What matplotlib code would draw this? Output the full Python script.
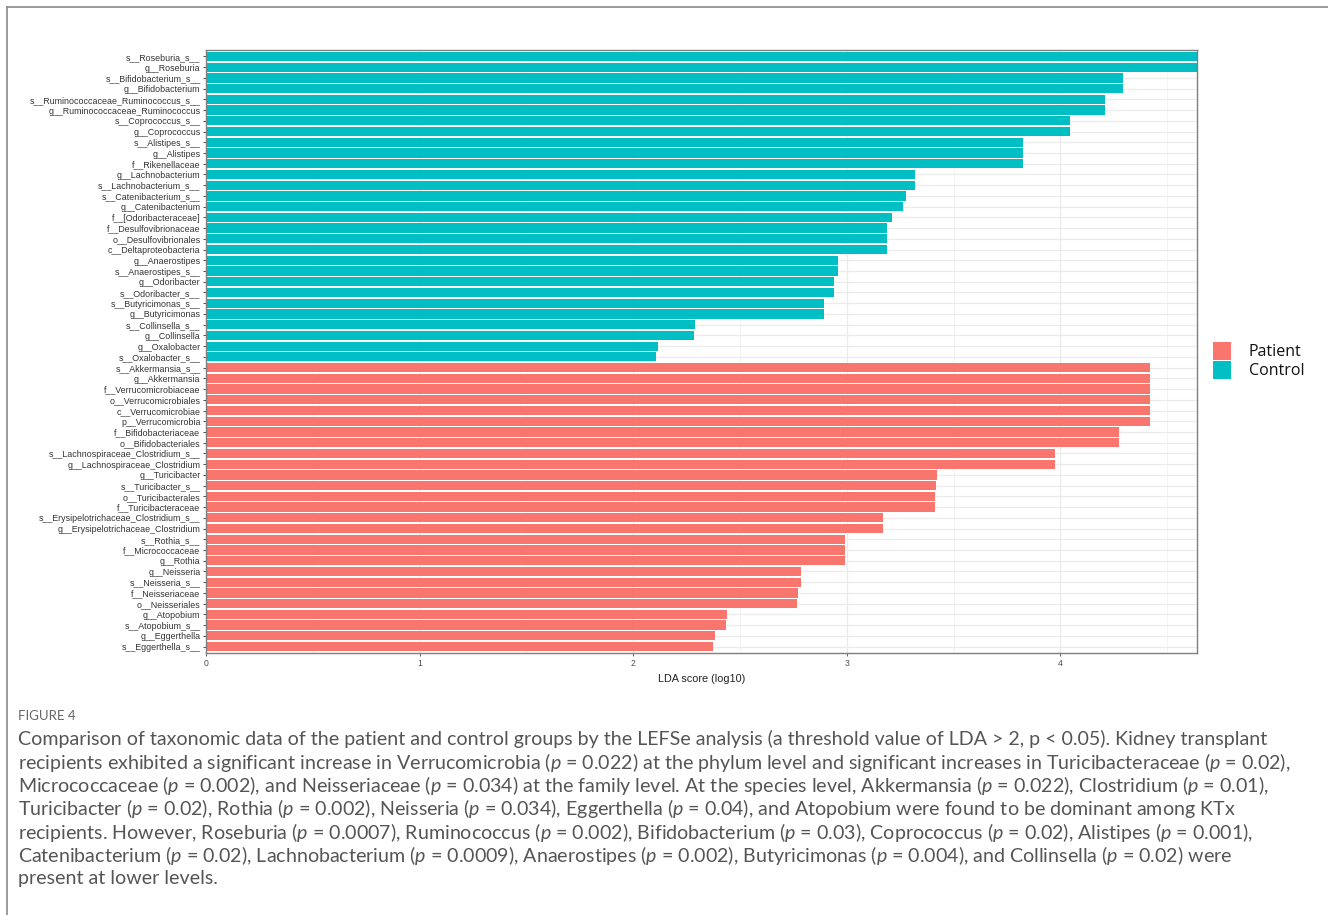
import matplotlib
matplotlib.use("Agg")
import matplotlib.pyplot as plt
from matplotlib.patches import Patch
from matplotlib.lines import Line2D
from matplotlib.ticker import MultipleLocator
import numpy as np

# LEfSe features, listed top to bottom as they appear on the chart
control_taxa = [
    "s__Roseburia_s__", "g__Roseburia", "s__Bifidobacterium_s__", "g__Bifidobacterium",
    "s__Ruminococcaceae_Ruminococcus_s__", "g__Ruminococcaceae_Ruminococcus",
    "s__Coprococcus_s__", "g__Coprococcus", "s__Alistipes_s__", "g__Alistipes",
    "f__Rikenellaceae", "g__Lachnobacterium", "s__Lachnobacterium_s__",
    "s__Catenibacterium_s__", "g__Catenibacterium", "f__[Odoribacteraceae]",
    "f__Desulfovibrionaceae", "o__Desulfovibrionales", "c__Deltaproteobacteria",
    "g__Anaerostipes", "s__Anaerostipes_s__", "g__Odoribacter", "s__Odoribacter_s__",
    "s__Butyricimonas_s__", "g__Butyricimonas", "s__Collinsella_s__", "g__Collinsella",
    "g__Oxalobacter", "s__Oxalobacter_s__",
]
control_lda = [
    4.64, 4.64, 4.294, 4.294,
    4.207, 4.207,
    4.046, 4.046, 3.825, 3.825,
    3.825, 3.318, 3.318,
    3.276, 3.265, 3.214,
    3.189, 3.189, 3.189,
    2.961, 2.961, 2.939, 2.939,
    2.895, 2.895, 2.291, 2.287,
    2.114, 2.107,
]

patient_taxa = [
    "s__Akkermansia_s__", "g__Akkermansia", "f__Verrucomicrobiaceae",
    "o__Verrucomicrobiales", "c__Verrucomicrobiae", "p__Verrucomicrobia",
    "f__Bifidobacteriaceae", "o__Bifidobacteriales",
    "s__Lachnospiraceae_Clostridium_s__", "g__Lachnospiraceae_Clostridium",
    "g__Turicibacter", "s__Turicibacter_s__", "o__Turicibacterales", "f__Turicibacteraceae",
    "s__Erysipelotrichaceae_Clostridium_s__", "g__Erysipelotrichaceae_Clostridium",
    "s__Rothia_s__", "f__Micrococcaceae", "g__Rothia",
    "g__Neisseria", "s__Neisseria_s__", "f__Neisseriaceae", "o__Neisseriales",
    "g__Atopobium", "s__Atopobium_s__", "g__Eggerthella", "s__Eggerthella_s__",
]
patient_lda = [
    4.418, 4.418, 4.418,
    4.418, 4.418, 4.418,
    4.276, 4.276,
    3.974, 3.974,
    3.422, 3.417, 3.413, 3.413,
    3.168, 3.168,
    2.993, 2.993, 2.993,
    2.787, 2.784, 2.774, 2.765,
    2.439, 2.435, 2.384, 2.374,
]

colors = {"Patient": "#F8766D", "Control": "#00BFC4"}

caption_lines = [
    "Comparison of taxonomic data of the patient and control groups by the LEFSe analysis (a threshold value of LDA > 2, p < 0.05). Kidney transplant",
    "recipients exhibited a significant increase in Verrucomicrobia ($p$ = 0.022) at the phylum level and significant increases in Turicibacteraceae ($p$ = 0.02),",
    "Micrococcaceae ($p$ = 0.002), and Neisseriaceae ($p$ = 0.034) at the family level. At the species level, Akkermansia ($p$ = 0.022), Clostridium ($p$ = 0.01),",
    "Turicibacter ($p$ = 0.02), Rothia ($p$ = 0.002), Neisseria ($p$ = 0.034), Eggerthella ($p$ = 0.04), and Atopobium were found to be dominant among KTx",
    "recipients. However, Roseburia ($p$ = 0.0007), Ruminococcus ($p$ = 0.002), Bifidobacterium ($p$ = 0.03), Coprococcus ($p$ = 0.02), Alistipes ($p$ = 0.001),",
    "Catenibacterium ($p$ = 0.02), Lachnobacterium ($p$ = 0.0009), Anaerostipes ($p$ = 0.002), Butyricimonas ($p$ = 0.004), and Collinsella ($p$ = 0.02) were",
    "present at lower levels.",
]

plt.rcParams["mathtext.fontset"] = "custom"
plt.rcParams["mathtext.rm"] = "Lato"
plt.rcParams["mathtext.it"] = "Lato:italic"

W, H = 1328, 915
fig = plt.figure(figsize=(W / 100, H / 100), dpi=100)
fig.patch.set_facecolor("white")

# panel frame (top and left rules)
fig.add_artist(Line2D([7 / W, 1.0], [1 - 7 / H, 1 - 7 / H], color="#8a8a8a", lw=1.2))
fig.add_artist(Line2D([7 / W, 7 / W], [0, 1 - 7 / H], color="#8a8a8a", lw=1.2))

ax = fig.add_axes([206 / W, 1 - 653 / H, (1197 - 206) / W, (653 - 50) / H])

names = control_taxa + patient_taxa
values = control_lda + patient_lda
groups = ["Control"] * len(control_taxa) + ["Patient"] * len(patient_taxa)
n = len(names)
ypos = np.arange(n)[::-1]

ax.barh(ypos, values, height=0.86, color=[colors[g] for g in groups],
        edgecolor="none", zorder=2)

ax.set_xlim(0, max(values))
ax.set_ylim(-0.6, n - 0.4)
ax.set_yticks(ypos)
ax.set_yticklabels(names, fontsize=6.4, color="#4d4d4d",
                   family=["Liberation Sans Narrow", "Liberation Sans"])
ax.xaxis.set_major_locator(MultipleLocator(1))
ax.xaxis.set_minor_locator(MultipleLocator(0.5))
ax.tick_params(axis="x", labelsize=6.2, colors="#4d4d4d", length=2.5, width=0.6, pad=2)
ax.tick_params(axis="x", which="minor", length=0)
ax.tick_params(axis="y", length=2.5, width=0.6, colors="#333333", pad=1.5)
for lab in ax.get_xticklabels():
    lab.set_family(["Liberation Sans Narrow", "Liberation Sans"])
ax.set_xlabel("LDA score (log10)", fontsize=7.8, color="#222222", labelpad=4,
              family=["Liberation Sans Narrow", "Liberation Sans"])

ax.grid(True, which="major", color="#ebebeb", lw=0.9, zorder=0)
ax.grid(True, which="minor", axis="x", color="#f2f2f2", lw=0.6, zorder=0)
ax.set_axisbelow(True)
for s in ax.spines.values():
    s.set_color("#7f7f7f")
    s.set_linewidth(1.0)

handles = [Patch(facecolor=colors["Patient"], label="Patient"),
           Patch(facecolor=colors["Control"], label="Control")]
fig.legend(handles=handles, loc="upper left", bbox_to_anchor=(1199 / W, 1 - 328 / H),
           frameon=False, prop={"family": "Open Sans", "size": 11.5, "weight": "medium"},
           handlelength=1.1, handleheight=1.3, handletextpad=1.1, labelspacing=0.05,
           labelcolor="#111111")

fig.text(18 / W, 1 - 716 / H, "FIGURE 4", fontsize=9.5, color="#666666",
         family="Lato", va="center")
for i, line in enumerate(caption_lines):
    fig.text(18 / W, 1 - (739 + i * 23.3) / H, line, fontsize=14.1, color="#555555",
             family="Lato", va="center")

fig.savefig("out.png", dpi=100, facecolor="white")
